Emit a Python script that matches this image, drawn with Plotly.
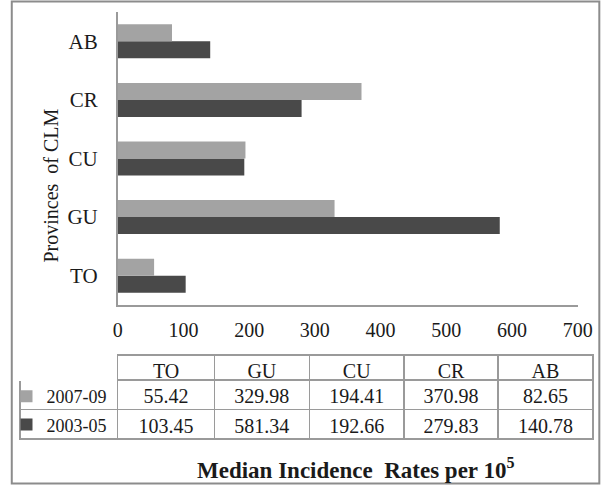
import plotly.graph_objects as go

provinces = ["TO", "GU", "CU", "CR", "AB"]
rates_2007_09 = [55.42, 329.98, 194.41, 370.98, 82.65]
rates_2003_05 = [103.45, 581.34, 192.66, 279.83, 140.78]
x_ticks = [0, 100, 200, 300, 400, 500, 600, 700]

LIGHT = "#a3a3a3"
DARK = "#494949"
LINE = "#9a9a9a"
TEXT = "#1a1a1a"
FONT = "Liberation Serif"

W, H = 616, 485
M_L, M_R, M_T, M_B = 8, 6, 12, 40
PW, PH = W - M_L - M_R, H - M_T - M_B


def px_x(px):
    return (px - M_L) / PW


def px_y(py):
    return (H - M_B - py) / PH


fig = go.Figure()

# legend entries double as the key column of the data table
fig.add_trace(go.Bar(
    y=provinces, x=rates_2003_05, orientation="h", name="2003-05",
    legendgroup="b", legendrank=2, marker=dict(color=DARK, line=dict(width=0)),
))
fig.add_trace(go.Bar(
    y=provinces, x=rates_2007_09, orientation="h", name="2007-09",
    legendgroup="a", legendrank=1, marker=dict(color=LIGHT, line=dict(width=0)),
))


def fmt(v):
    return f"{v:.2f}"


columns = [["", ""]]
for i in range(len(provinces)):
    columns.append([fmt(rates_2007_09[i]), fmt(rates_2003_05[i])])

fig.add_trace(go.Table(
    domain=dict(x=[px_x(10), px_x(608)], y=[px_y(440), px_y(355)]),
    columnwidth=[102, 101, 99, 99, 98, 99],
    header=dict(
        values=[""] + provinces,
        height=25,
        align="center",
        fill=dict(color="white"),
        line=dict(color=["white"] + [LINE] * len(provinces), width=1.5),
        font=dict(family=FONT, size=20, color=TEXT),
    ),
    cells=dict(
        values=columns,
        height=29.5,
        align="center",
        fill=dict(color="white"),
        line=dict(color=LINE, width=1.5),
        font=dict(family=FONT, size=20, color=TEXT),
    ),
))

fig.update_layout(
    width=W, height=H,
    margin=dict(l=M_L, r=M_R, t=M_T, b=M_B),
    paper_bgcolor="white",
    plot_bgcolor="white",
    barmode="group",
    bargap=0.42,
    bargroupgap=0,
    showlegend=True,
    legend=dict(
        x=px_x(-4), y=px_y(378), xanchor="left", yanchor="top",
        traceorder="grouped", tracegroupgap=2,
        itemwidth=30, bgcolor="rgba(0,0,0,0)",
        font=dict(family=FONT, size=18, color=TEXT),
    ),
    xaxis=dict(
        domain=[px_x(112), px_x(592)],
        range=[0, 700],
        tickvals=x_ticks,
        showgrid=False,
        zeroline=False,
        showline=True,
        linecolor=LINE,
        linewidth=1.5,
        ticks="outside",
        ticklen=6,
        tickcolor="rgba(0,0,0,0)",
        tickfont=dict(family=FONT, size=20, color=TEXT),
    ),
    yaxis=dict(
        domain=[px_y(305), px_y(12)],
        categoryorder="array",
        categoryarray=provinces,
        showgrid=False,
        zeroline=False,
        showline=True,
        linecolor=LINE,
        linewidth=1.5,
        ticks="",
        ticklabelstandoff=14,
        tickfont=dict(family=FONT, size=21, color=TEXT),
    ),
    annotations=[
        dict(
            text="Provinces  of CLM", textangle=-90,
            xref="paper", yref="paper", x=px_x(42), y=px_y(186),
            showarrow=False, xanchor="center", yanchor="middle",
            font=dict(family=FONT, size=20, color=TEXT),
        ),
        dict(
            text="<b>Median Incidence  Rates per 10<sup>5</sup></b>",
            xref="paper", yref="paper", x=px_x(360), y=px_y(468),
            showarrow=False, xanchor="center", yanchor="middle",
            font=dict(family=FONT, size=23, color=TEXT),
        ),
    ],
    shapes=[
        dict(
            type="rect", xref="paper", yref="paper",
            x0=px_x(1.5), x1=px_x(614.5), y0=px_y(483.5), y1=px_y(1.5),
            line=dict(color="#8c8c8c", width=2),
        ),
    ],
)

# drop the default 8px body margin so the figure sits at the window origin
post = (
    "document.body.style.margin='0';"
    "document.body.style.overflow='hidden';"
)

fig.write_html(
    "out.html",
    config={"displayModeBar": False, "responsive": False},
    post_script=post,
)
